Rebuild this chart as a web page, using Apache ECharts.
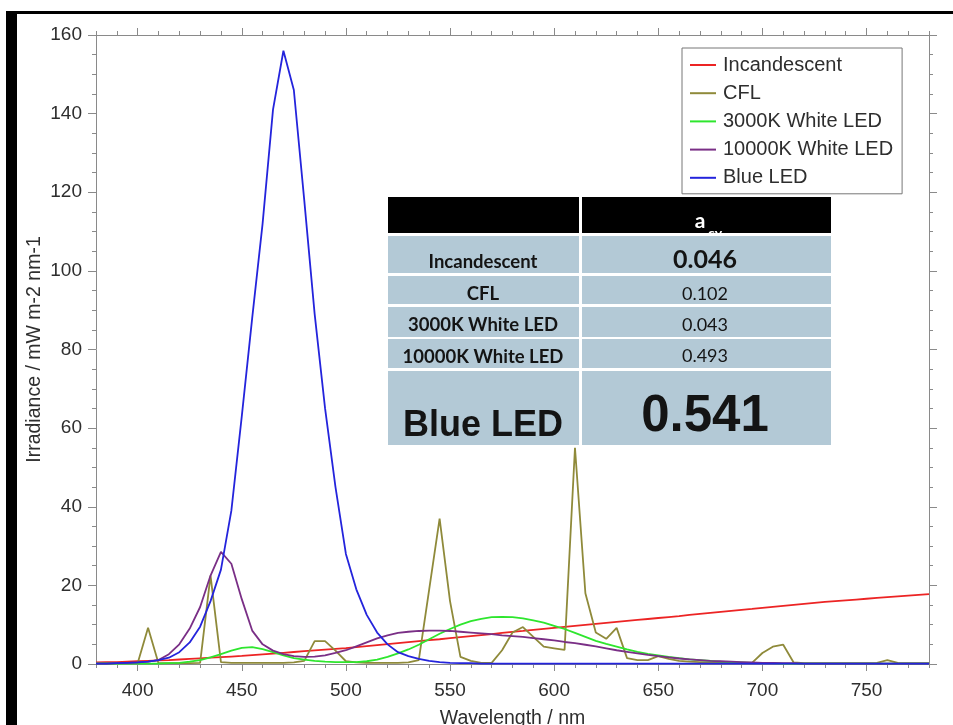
<!DOCTYPE html>
<html>
<head>
<meta charset="utf-8">
<script src="https://cdn.jsdelivr.net/npm/echarts@6/dist/echarts.min.js"></script>
<style>
html,body{margin:0;padding:0;background:#fff;}
#chart{width:953px;height:725px;}
</style>
</head>
<body>
<div id="chart"></div>
<script>
// ---------- data ----------
const wavelengths = [380,385,390,395,400,405,410,415,420,425,430,435,440,445,450,455,460,465,470,475,480,485,490,495,500,505,510,515,520,525,530,535,540,545,550,555,560,565,570,575,580,585,590,595,600,605,610,615,620,625,630,635,640,645,650,655,660,665,670,675,680,685,690,695,700,705,710,715,720,725,730,735,740,745,750,755,760,765,770,775,780];

const incandescent = [0.4,0.45,0.5,0.6,0.7,0.8,0.9,1.0,1.15,1.3,1.45,1.6,1.75,1.9,2.05,2.25,2.45,2.65,2.85,3.05,3.25,3.45,3.65,3.85,4.05,4.3,4.55,4.8,5.05,5.3,5.55,5.8,6.05,6.3,6.6,6.85,7.1,7.35,7.6,7.9,8.15,8.4,8.7,8.95,9.2,9.45,9.7,9.95,10.2,10.45,10.7,10.95,11.2,11.45,11.7,11.95,12.2,12.5,12.75,13.0,13.25,13.5,13.75,14.0,14.3,14.55,14.8,15.05,15.3,15.55,15.8,16.0,16.2,16.4,16.6,16.8,17.0,17.2,17.4,17.6,17.8];

const cfl = [0.2,0.2,0.2,0.2,0.2,9.2,0.2,0.2,0.2,0.2,0.3,22.5,0.5,0.3,0.3,0.3,0.3,0.3,0.3,0.4,0.8,5.8,5.8,3.4,0.7,0.4,0.3,0.3,0.3,0.3,0.4,1.0,19,37,16,1.8,0.8,0.3,0.3,3.5,8.0,9.4,6.9,4.4,4.0,3.6,55,18,8.0,6.4,9.2,1.5,1.0,1.0,2.0,1.3,0.8,0.6,0.5,0.4,0.4,0.3,0.3,0.3,2.8,4.4,4.9,0.4,0.2,0.2,0.2,0.2,0.2,0.2,0.2,0.3,1.0,0.3,0.2,0.2,0.2];

const white3000K = [0.1,0.1,0.1,0.1,0.1,0.1,0.1,0.2,0.3,0.6,1.0,1.7,2.5,3.4,4.1,4.3,3.8,3.0,2.2,1.5,1.1,0.8,0.6,0.5,0.5,0.5,0.7,1.1,1.8,2.7,3.7,4.9,6.3,7.7,8.9,10.0,10.9,11.5,11.9,12.0,11.9,11.6,11.1,10.5,9.7,8.9,7.9,6.9,5.9,5.1,4.4,3.7,3.1,2.6,2.2,1.8,1.5,1.2,1.0,0.8,0.6,0.5,0.4,0.3,0.2,0.2,0.1,0.1,0.1,0.1,0.1,0.1,0.1,0.1,0.1,0.1,0.1,0.1,0.1,0.1,0.1];

const white10000K = [0.1,0.1,0.2,0.3,0.4,0.6,1.0,2.5,5.0,9.0,14.5,22.5,28.5,25.5,16.5,8.5,5.0,3.4,2.5,2.0,1.8,1.9,2.2,2.8,3.5,4.5,5.5,6.5,7.3,7.9,8.2,8.4,8.5,8.5,8.4,8.2,8.0,7.8,7.6,7.3,7.1,6.9,6.6,6.3,6.0,5.6,5.3,4.9,4.5,4.0,3.5,3.1,2.7,2.3,2.0,1.7,1.4,1.2,1.0,0.8,0.7,0.6,0.5,0.4,0.3,0.3,0.2,0.2,0.1,0.1,0.1,0.1,0.1,0.1,0.1,0.1,0.1,0.1,0.1,0.1,0.1];

const blueLED = [0.1,0.1,0.2,0.3,0.4,0.6,1.0,1.6,3.0,5.5,9.5,16,24,39,63,88,112,141,156,146,118,89,65,45,28,19,12.5,8.0,5.0,3.0,2.0,1.3,0.8,0.5,0.3,0.2,0.2,0.1,0.1,0.1,0.1,0.1,0.1,0.1,0.1,0.1,0.1,0.1,0.1,0.1,0.1,0.1,0.1,0.1,0.1,0.1,0.1,0.1,0.1,0.1,0.1,0.1,0.1,0.1,0.1,0.1,0.1,0.1,0.1,0.1,0.1,0.1,0.1,0.1,0.1,0.1,0.1,0.1,0.1,0.1,0.1];

const seriesNames = ['Incandescent','CFL','3000K White LED','10000K White LED','Blue LED'];
const seriesValues = [incandescent, cfl, white3000K, white10000K, blueLED];
const seriesColors = ['#ec2424','#8f8a3a','#2ee62e','#7a2f86','#2424dc'];

const xMajorTicks = [400,450,500,550,600,650,700,750];

const tableRows = ['Incandescent','CFL','3000K White LED','10000K White LED','Blue LED'];
const tableValues = ['0.046','0.102','0.043','0.493','0.541'];
const tableHeader = ['a','cy'];

// ---------- chart ----------
const chart = echarts.init(document.getElementById('chart'), null, {renderer:'canvas'});
const axisGray = '#8a8a8a';
const labelColor = '#2e2e2e';
const fontArial = '"Liberation Sans", Arial, sans-serif';

function pairs(vals){ return wavelengths.map((w,i)=>[w, vals[i]]); }

const series = seriesNames.map((n,i)=>({
  name:n, type:'line', xAxisIndex:0, yAxisIndex:0,
  data: pairs(seriesValues[i]),
  showSymbol:false, symbol:'none',
  lineStyle:{color:seriesColors[i], width:1.8},
  itemStyle:{color:seriesColors[i]},
  z: 2 + i
}));

// table graphics
const cellBlue = '#b3c9d6';
const txt = '#141414';
const colL = {x:388, w:191}, colR = {x:582, w:249};
const rowsGeom = [
  {y:236, h:37},
  {y:276, h:28},
  {y:307, h:30},
  {y:339, h:29},
  {y:371, h:74}
];
const g = [];
// frame
g.push({type:'rect', z:200, shape:{x:6,y:11,width:11,height:714}, style:{fill:'#000'}});
g.push({type:'rect', z:200, shape:{x:6,y:11,width:947,height:3}, style:{fill:'#000'}});
// header
g.push({type:'rect', z:100, shape:{x:colL.x,y:197,width:colL.w,height:36}, style:{fill:'#000'}});
g.push({type:'rect', z:100, shape:{x:colR.x,y:197,width:colR.w,height:36}, style:{fill:'#000'}});
g.push({type:'text', z:101, style:{text:tableHeader[0], x:700, y:221, font:'bold 21px Lato, sans-serif', fill:'#fff', align:'center', verticalAlign:'middle', textAlign:'center', textVerticalAlign:'middle'}});
g.push({type:'text', z:101, style:{text:tableHeader[1], x:708, y:233, font:'bold 14px Lato, sans-serif', fill:'#fff', align:'left', verticalAlign:'middle', textAlign:'left', textVerticalAlign:'middle'}});
rowsGeom.forEach((r,i)=>{
  g.push({type:'rect', z:102, shape:{x:colL.x,y:r.y,width:colL.w,height:r.h}, style:{fill:cellBlue}});
  g.push({type:'rect', z:102, shape:{x:colR.x,y:r.y,width:colR.w,height:r.h}, style:{fill:cellBlue}});
});
const labelY = [262, 294, 325, 357, 426];
const valueY = [260, 294, 325, 356, 417];
const labelFont = ['bold 18.5px Lato, sans-serif','bold 18.5px Lato, sans-serif','bold 18.5px Lato, sans-serif','bold 18.5px Lato, sans-serif','bold 36px "Liberation Sans", Arial, sans-serif'];
const valueFont = ['bold 25px Lato, sans-serif','18px Lato, sans-serif','18px Lato, sans-serif','18px Lato, sans-serif','bold 51px "Liberation Sans", Arial, sans-serif'];
tableRows.forEach((name,i)=>{
  g.push({type:'text', z:103, style:{text:name, x:483, y:labelY[i], font:labelFont[i], fill:txt, align:'center', verticalAlign:'middle', textAlign:'center', textVerticalAlign:'middle'}});
  g.push({type:'text', z:103, style:{text:tableValues[i], x:705, y:valueY[i], font:valueFont[i], fill:txt, align:'center', verticalAlign:'middle', textAlign:'center', textVerticalAlign:'middle'}});
});

const baseX = {type:'value', min:380, max:780, splitLine:{show:false}, gridIndex:0};
const option = {
  animation:false,
  backgroundColor:'#fff',
  grid:{left:96, right:24, top:35, bottom:61, containLabel:false, outerBoundsMode:'none'},
  xAxis:[
    Object.assign({}, baseX, {position:'bottom', interval:10,
      axisLine:{show:true, onZero:false, lineStyle:{color:axisGray, width:1}},
      axisTick:{show:true, length:4, lineStyle:{color:axisGray}},
      axisLabel:{show:false},
      name:'Wavelength / nm', nameLocation:'middle', nameGap:45, nameMoveOverlap:false,
      nameTextStyle:{fontSize:19.5, color:labelColor, fontFamily:fontArial}}),
    Object.assign({}, baseX, {position:'bottom',
      axisLine:{show:false, onZero:false},
      axisTick:{show:true, length:7, customValues:xMajorTicks, lineStyle:{color:axisGray}},
      axisLabel:{show:true, customValues:xMajorTicks, fontSize:19, color:labelColor, fontFamily:fontArial, margin:17}}),
    Object.assign({}, baseX, {position:'top', interval:10,
      axisLine:{show:true, onZero:false, lineStyle:{color:axisGray, width:1}},
      axisTick:{show:true, length:4, lineStyle:{color:axisGray}},
      axisLabel:{show:false}}),
    Object.assign({}, baseX, {position:'top',
      axisLine:{show:false, onZero:false},
      axisTick:{show:true, length:7, customValues:xMajorTicks, lineStyle:{color:axisGray}},
      axisLabel:{show:false}})
  ],
  yAxis:[
    {type:'value', position:'left', min:0, max:160, interval:20,
      axisLine:{show:true, onZero:false, lineStyle:{color:axisGray}},
      axisTick:{show:true, length:8, lineStyle:{color:axisGray}},
      minorTick:{show:true, splitNumber:4, length:4, lineStyle:{color:axisGray}},
      axisLabel:{fontSize:19, color:labelColor, fontFamily:fontArial, margin:14},
      splitLine:{show:false},
      name:'Irradiance / mW m-2 nm-1', nameLocation:'middle', nameGap:51, nameRotate:90, nameMoveOverlap:false,
      nameTextStyle:{fontSize:19.5, color:labelColor, fontFamily:fontArial}},
    {type:'value', position:'right', min:0, max:160, interval:20,
      axisLine:{show:true, onZero:false, lineStyle:{color:axisGray}},
      axisTick:{show:true, length:8, lineStyle:{color:axisGray}},
      minorTick:{show:true, splitNumber:4, length:4, lineStyle:{color:axisGray}},
      axisLabel:{show:false}, splitLine:{show:false}}
  ],
  legend:{
    orient:'vertical', left:682, top:48,
    padding:[7,9,6,8], itemWidth:26, itemHeight:2, itemGap:8.2, icon:'rect',
    borderColor:'#777', borderWidth:1, backgroundColor:'#fff',
    textStyle:{fontSize:20, lineHeight:20, color:labelColor, fontFamily:fontArial, padding:[0,0,0,2]},
    data:seriesNames, selectedMode:false
  },
  graphic:{elements:g},
  series:series
};
chart.setOption(option);
</script>
</body>
</html>
